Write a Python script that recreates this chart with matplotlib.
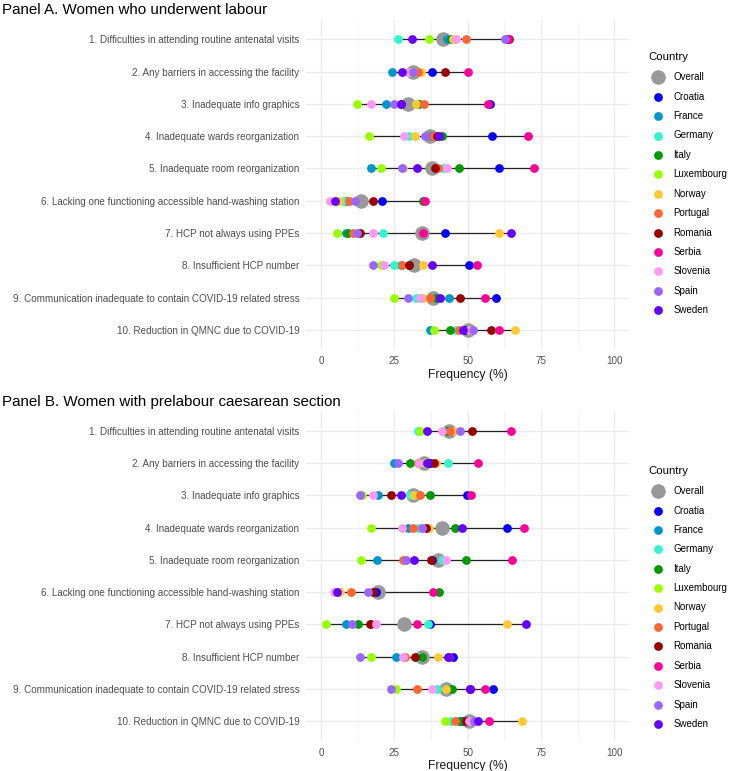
import matplotlib
matplotlib.use("Agg")
import matplotlib.pyplot as plt
from matplotlib.ticker import MultipleLocator

plt.rcParams['font.family'] = ['Liberation Sans', 'DejaVu Sans']

items = [
    "1. Difficulties in attending routine antenatal visits",
    "2. Any barriers in accessing the facility",
    "3. Inadequate info graphics",
    "4. Inadequate wards reorganization",
    "5. Inadequate room reorganization",
    "6. Lacking one functioning accessible hand-washing station",
    "7. HCP not always using PPEs",
    "8. Insufficient HCP number",
    "9. Communication inadequate to contain COVID-19 related stress",
    "10. Reduction in QMNC due to COVID-19",
]
countries = ["Croatia", "France", "Germany", "Italy", "Luxembourg", "Norway",
             "Portugal", "Romania", "Serbia", "Slovenia", "Spain", "Sweden"]
colors = ["#0000FF", "#0096CC", "#33F5CC", "#009900", "#99FF00", "#FFC933",
          "#FF6633", "#990000", "#FF0099", "#FF99F5", "#9966FF", "#6600FF"]
overall_color = "#999999"

# Panel A: women who underwent labour (rows = items, cols = countries)
panel_a = [
    [63.5, 42.8, 26.1, 44.4, 36.7, 45.1, 49.4, 64.0, 63.6, 45.9, 62.8, 30.9],
    [37.8, 24.3, 31.0, 32.0, 32.5, 34.0, 33.0, 42.3, 50.1, 29.8, 31.4, 27.6],
    [57.6, 22.0, 32.4, 33.3, 12.2, 32.4, 35.2, 27.3, 56.8, 17.2, 25.0, 27.3],
    [58.3, 37.6, 30.0, 41.1, 16.5, 31.9, 38.1, 39.4, 70.5, 28.3, 35.6, 40.2],
    [60.7, 17.2, 41.7, 47.0, 20.5, 28.1, 40.0, 38.9, 72.5, 42.8, 27.6, 32.6],
    [20.8, 8.5, 7.4, 34.7, 5.5, 6.2, 9.4, 17.6, 35.6, 3.1, 11.7, 4.8],
    [42.3, 8.4, 21.3, 9.3, 5.3, 60.7, 11.0, 13.3, 34.7, 17.6, 12.2, 64.8],
    [50.6, 27.3, 24.9, 30.1, 20.3, 34.7, 27.6, 30.1, 53.3, 21.6, 17.8, 37.8],
    [59.7, 43.8, 32.4, 39.1, 25.0, 34.9, 37.2, 47.4, 56.0, 33.8, 29.8, 40.6],
    [49.0, 37.2, 45.9, 44.1, 38.5, 66.3, 47.0, 58.1, 60.7, 50.5, 51.8, 48.4],
]
overall_a = [41.6, 31.5, 29.8, 37.2, 37.8, 13.5, 34.4, 31.7, 38.1, 50.1]

# Panel B: women with prelabour caesarean section
panel_b = [
    [44.0, 43.5, 33.0, 43.0, 33.8, 45.3, 44.0, 51.6, 64.7, 41.3, 47.5, 36.3],
    [37.0, 25.0, 43.3, 30.3, 35.5, 39.2, 33.0, 38.5, 53.4, 33.5, 26.3, 36.0],
    [49.9, 19.3, 30.3, 37.2, 13.9, 31.7, 33.8, 24.0, 51.3, 17.8, 13.3, 27.3],
    [63.4, 29.8, 33.2, 45.7, 16.9, 36.9, 31.3, 35.8, 69.2, 27.7, 34.4, 48.0],
    [38.0, 19.2, 41.1, 49.3, 13.5, 28.6, 28.1, 37.6, 65.2, 42.6, 28.9, 31.6],
    [18.6, 5.0, 6.0, 40.1, 5.2, 6.5, 10.1, 17.6, 38.3, 4.4, 15.9, 5.6],
    [37.2, 8.5, 36.5, 12.5, 1.7, 63.3, 17.0, 16.7, 32.8, 18.6, 10.7, 70.0],
    [45.1, 25.6, 33.5, 34.4, 17.0, 39.9, 28.6, 32.2, 43.8, 28.1, 13.3, 43.2],
    [58.5, 43.0, 39.5, 44.8, 25.7, 42.5, 32.8, 50.8, 56.0, 37.8, 23.8, 50.8],
    [48.0, 47.0, 44.3, 47.5, 42.4, 68.6, 45.6, 49.3, 57.4, 50.5, 52.2, 53.5],
]
overall_b = [43.8, 35.1, 31.5, 41.1, 40.0, 19.3, 28.2, 34.4, 42.6, 50.3]

titles = ["Panel A. Women who underwent labour",
          "Panel B. Women with prelabour caesarean section"]
xticks = [0, 25, 50, 75, 100]

W, H = 729, 771
fig = plt.figure(figsize=(W / 100, H / 100), dpi=100)


def px_axes(left, top, right, bottom):
    return fig.add_axes([left / W, 1 - bottom / H, (right - left) / W, (bottom - top) / H])


def draw_panel(ax, data, overall):
    n = len(items)
    ys = list(range(n))
    ax.set_xlim(-5, 105)
    ax.set_ylim(n - 1 + 0.6, -0.6)
    ax.xaxis.set_major_locator(MultipleLocator(25))
    ax.xaxis.set_minor_locator(MultipleLocator(12.5))
    ax.grid(which='major', axis='both', color='#EBEBEB', lw=1.0, zorder=0)
    ax.grid(which='minor', axis='x', color='#F2F2F2', lw=0.6, zorder=0)
    ax.set_axisbelow(True)
    for s in ax.spines.values():
        s.set_visible(False)
    ax.tick_params(which='both', length=0)
    ax.tick_params(labelsize=7.1, labelcolor='#4D4D4D', pad=5)
    ax.set_xticks(xticks)
    ax.set_xticklabels([str(t) for t in xticks])
    ax.set_yticks(ys)
    ax.set_yticklabels(items)
    for i, row in enumerate(data):
        ax.hlines(i, min(row + [overall[i]]), max(row + [overall[i]]),
                  color='#222222', lw=0.9, zorder=2)
    ax.scatter(overall, ys, s=110, color=overall_color, zorder=3, linewidths=0)
    for j, c in enumerate(countries):
        ax.scatter([row[j] for row in data], ys, s=40, color=colors[j],
                   zorder=4 + j, linewidths=0)
    ax.set_xlabel("Frequency (%)", fontsize=8.7, color='#1A1A1A', labelpad=2)


ax_a = px_axes(306.3, 19.9, 629, 349.4)
draw_panel(ax_a, panel_a, overall_a)
ax_b = px_axes(306.3, 411.3, 629, 740.7)
draw_panel(ax_b, panel_b, overall_b)

# overlay for titles and legends
ov = fig.add_axes([0, 0, 1, 1])
ov.set_xlim(0, W)
ov.set_ylim(H, 0)
ov.axis('off')
ov.patch.set_alpha(0)

for title, ty in zip(titles, [10, 402]):
    ov.text(2, ty, title, fontsize=10.9, color='black', va='center', ha='left')

for ltop in [56.7, 470.5]:
    ov.text(648, ltop, "Country", fontsize=8.2, color='black', va='center', ha='left')
    labels = ["Overall"] + countries
    cols = [overall_color] + colors
    for k, (lab, col) in enumerate(zip(labels, cols)):
        yy = ltop + 20.6 + k * 19.4
        ov.scatter([658.3], [yy], s=110 if k == 0 else 40, color=col, linewidths=0)
        ov.text(673.3, yy, lab, fontsize=7.0, color='black', va='center', ha='left')

fig.savefig("out.png", dpi=100)
